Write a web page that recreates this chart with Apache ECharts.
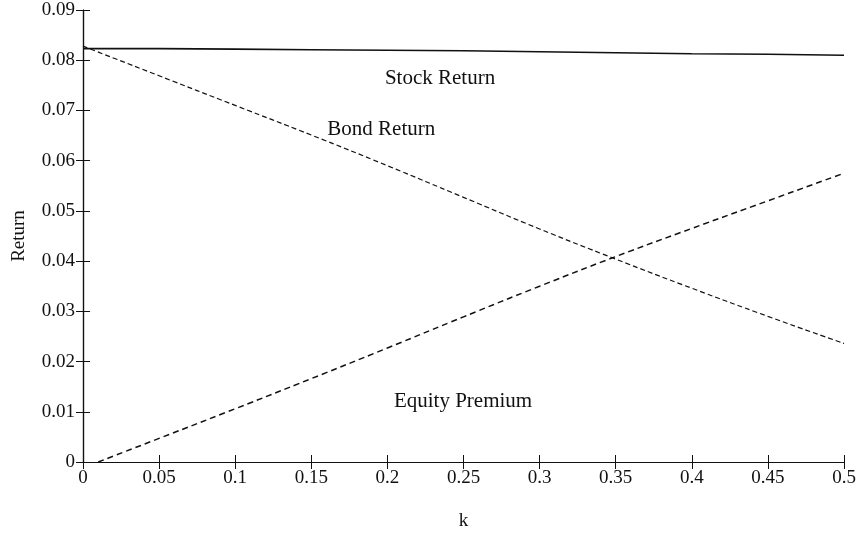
<!DOCTYPE html>
<html>
<head>
<meta charset="utf-8">
<script src="https://cdn.jsdelivr.net/npm/echarts@6/dist/echarts.min.js"></script>
<style>
  html, body { margin: 0; padding: 0; background: #fff; }
  #chart { width: 867px; height: 538px; }
</style>
</head>
<body>
<div id="chart"></div>
<script>
// k grid used by the stock and bond curves
const kValues = [0, 0.05, 0.1, 0.15, 0.2, 0.25, 0.3, 0.35, 0.4, 0.45, 0.5];
const stockReturn = [0.0823, 0.0823, 0.0822, 0.0821, 0.0820, 0.0819, 0.0817, 0.0815, 0.0813, 0.0812, 0.0810];
const bondReturn  = [0.0828, 0.0769, 0.0710, 0.0651, 0.0590, 0.0527, 0.0464, 0.0404, 0.0346, 0.0290, 0.0236];

// equity premium starts just to the right of k = 0
const premiumK      = [0.01, 0.05, 0.1, 0.15, 0.2, 0.25, 0.3, 0.35, 0.4, 0.45, 0.5];
const equityPremium = [0, 0.0047, 0.0106, 0.0166, 0.0227, 0.0289, 0.0350, 0.0409, 0.0465, 0.0520, 0.0575];

// curve captions, placed in data coordinates
const captions = [
  { text: 'Stock Return',   k: 0.2346, r: 0.0763 },
  { text: 'Bond Return',    k: 0.1960, r: 0.0663 },
  { text: 'Equity Premium', k: 0.2497, r: 0.0120 }
];

const xTicks = [0, 0.05, 0.1, 0.15, 0.2, 0.25, 0.3, 0.35, 0.4, 0.45, 0.5];
const yTicks = [0, 0.01, 0.02, 0.03, 0.04, 0.05, 0.06, 0.07, 0.08, 0.09];

const FONT = 'Liberation Serif';
const INK = '#111';

const pair = (xs, ys) => xs.map((x, i) => [x, ys[i]]);
const pick = (list, v) => { const t = list.find(x => Math.abs(x - v) < 1e-9); return t === undefined ? '' : String(t); };

const axisLineStyle = { show: true, lineStyle: { color: INK, width: 1.2 } };
const tickStyle = { show: true, inside: true, length: 7, lineStyle: { color: INK, width: 1 } };

const chart = echarts.init(document.getElementById('chart'), null, { renderer: 'canvas' });

chart.setOption({
  backgroundColor: '#fff',
  animation: false,
  grid: { left: 83, right: 23, top: 10, bottom: 76 },
  xAxis: [
    {
      type: 'value', min: 0, max: 0.5, interval: 0.05,
      name: 'k', nameLocation: 'middle', nameGap: 50,
      nameTextStyle: { fontFamily: FONT, fontSize: 19, color: INK },
      axisLine: axisLineStyle, axisTick: tickStyle, splitLine: { show: false },
      axisLabel: { fontFamily: FONT, fontSize: 19, color: INK, margin: 7, formatter: v => pick(xTicks, v) }
    },
    {
      type: 'value', min: 0, max: 0.5, interval: 0.05, position: 'top',
      axisLine: axisLineStyle, axisTick: tickStyle, axisLabel: { show: false }, splitLine: { show: false }
    }
  ],
  yAxis: [
    {
      type: 'value', min: 0, max: 0.09, interval: 0.01,
      name: 'Return', nameLocation: 'middle', nameGap: 54, nameRotate: 90,
      nameTextStyle: { fontFamily: FONT, fontSize: 19, color: INK },
      axisLine: axisLineStyle, axisTick: tickStyle, splitLine: { show: false },
      axisLabel: { fontFamily: FONT, fontSize: 19, color: INK, margin: 8, formatter: v => pick(yTicks, v) }
    },
    {
      type: 'value', min: 0, max: 0.09, interval: 0.01, position: 'right',
      axisLine: axisLineStyle, axisTick: tickStyle, axisLabel: { show: false }, splitLine: { show: false }
    }
  ],
  series: [
    {
      name: 'Stock Return', type: 'line', data: pair(kValues, stockReturn),
      showSymbol: false, smooth: false,
      lineStyle: { color: INK, width: 1.6, type: 'solid' },
      markPoint: {
        symbol: 'circle', symbolSize: 0, silent: true,
        label: { show: true, position: 'inside', fontFamily: FONT, fontSize: 21, color: INK, formatter: p => p.name },
        data: captions.map(c => ({ name: c.text, coord: [c.k, c.r] }))
      }
    },
    {
      name: 'Bond Return', type: 'line', data: pair(kValues, bondReturn),
      showSymbol: false, smooth: true,
      lineStyle: { color: INK, width: 1.2, type: [5, 3] }
    },
    {
      name: 'Equity Premium', type: 'line', data: pair(premiumK, equityPremium),
      showSymbol: false, smooth: true,
      lineStyle: { color: INK, width: 1.5, type: [6, 4] }
    }
  ]
});
</script>
</body>
</html>
